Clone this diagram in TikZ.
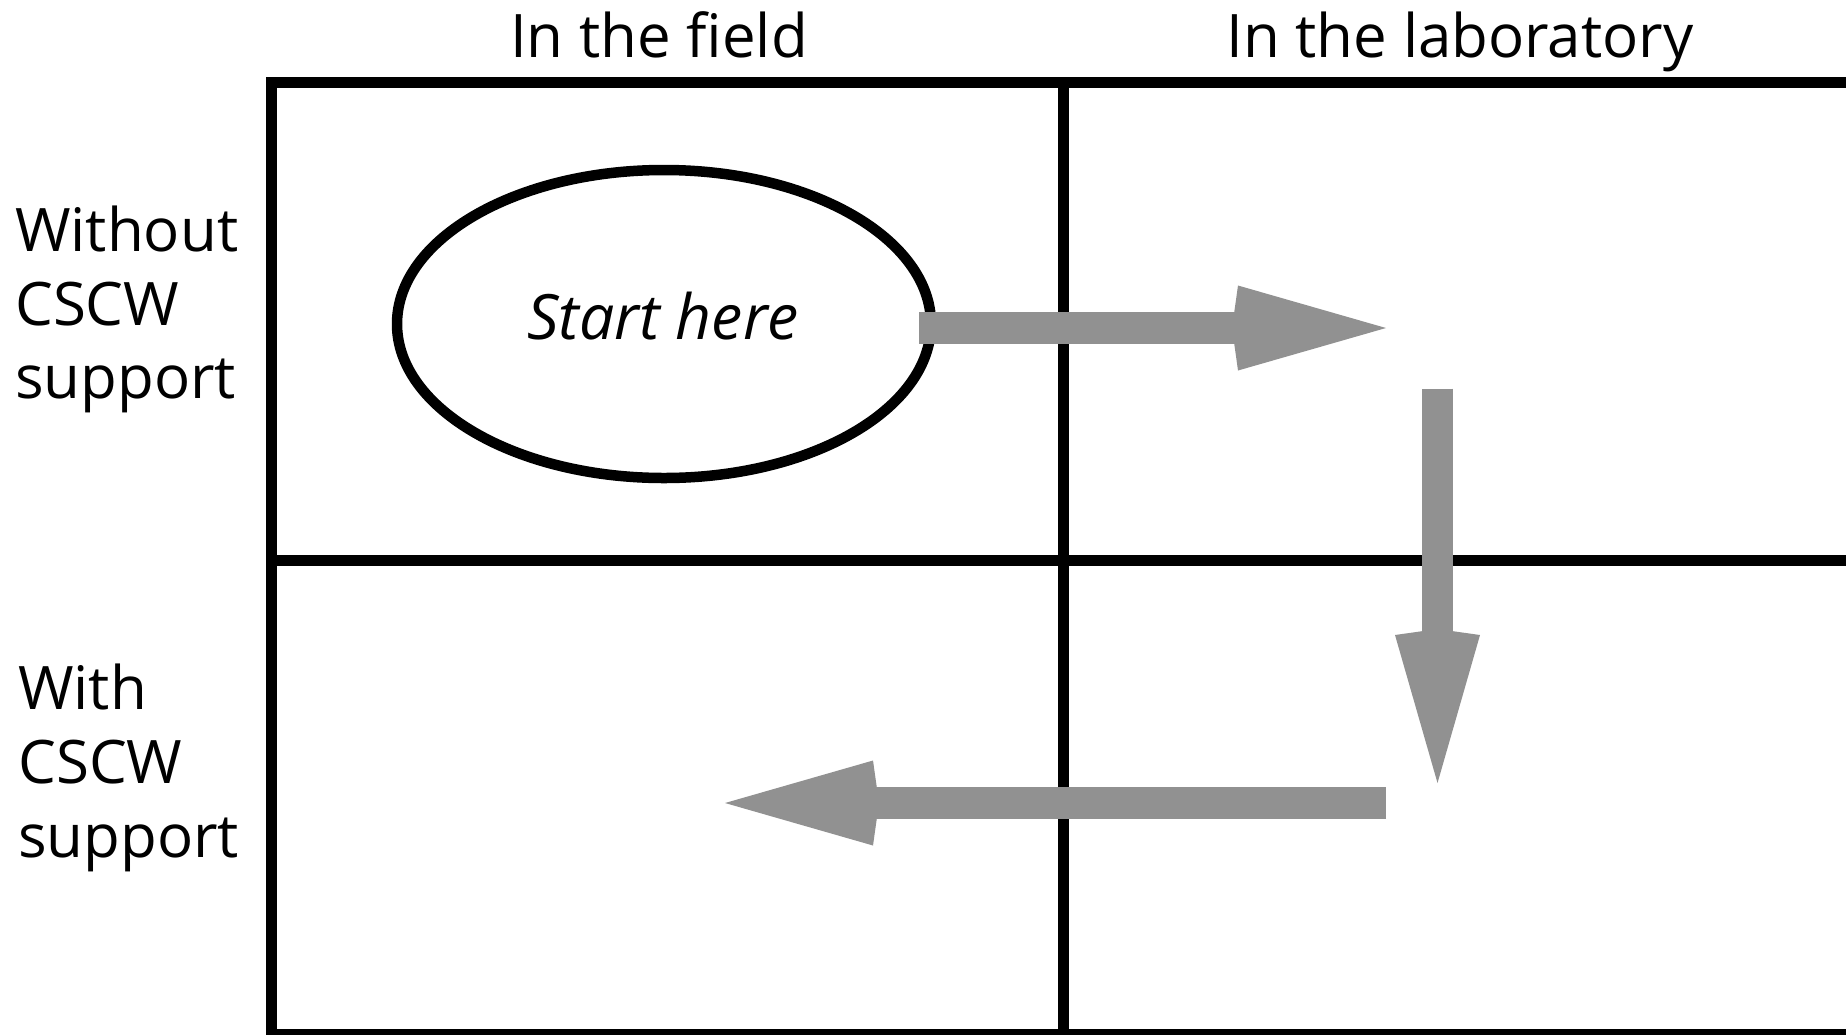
\documentclass[tikz,border=0pt]{standalone}
\usepackage{fontspec}
\setmainfont{Open Sans}
\usetikzlibrary{arrows.meta,shapes.geometric}
\definecolor{arrowgray}{RGB}{145,145,145}
\tikzset{
  gridline/.style={line width=11pt, black},
  label/.style={font=\fontsize{60}{73.6}\selectfont, inner sep=0pt},
  bigarrow/.style={draw=arrowgray, line width=31.6pt,
    -{Kite[length=154pt, inset=6pt, width=85pt, fill=arrowgray]}},
}
\begin{document}
\begin{tikzpicture}[x=1pt, y=-1pt]
\useasboundingbox (0,0) rectangle (1846,1034);
% grid
\draw[gridline] (271.5,82.7) rectangle (1851,1034.5);
\draw[gridline] (1063.5,82.7) -- (1063.5,1034.5);
\draw[gridline] (271.5,560) -- (1851,560);
% headers
\node[label, anchor=base] (hfield) at (659,57) {In the field};
\node[label, anchor=base] (hlab) at (1460,57) {In the laboratory};
% row labels
\node[label, anchor=north west, align=left] (rwithout) at (15,206) {Without\\CSCW\\support};
\node[label, anchor=north west, align=left] (rwith) at (18,664) {With\\CSCW\\support};
% ellipse
\node[draw, ellipse, line width=10.5pt, minimum width=534pt, minimum height=308pt, inner sep=0pt] (start) at (664,324) {};
\node[label, font=\fontsize{62.5}{72}\selectfont\itshape] (starttext) at (663,316) {Start here};
% arrows
\coordinate (r1) at (919,328);
\coordinate (r2) at (1386,328);
\coordinate (d1) at (1437.5,388.5);
\coordinate (d2) at (1437.5,783);
\coordinate (l1) at (1386,803);
\coordinate (l2) at (725,803);
\draw[bigarrow] (r1) -- (r2);
\draw[bigarrow] (d1) -- (d2);
\draw[bigarrow] (l1) -- (l2);
\end{tikzpicture}
\end{document}
